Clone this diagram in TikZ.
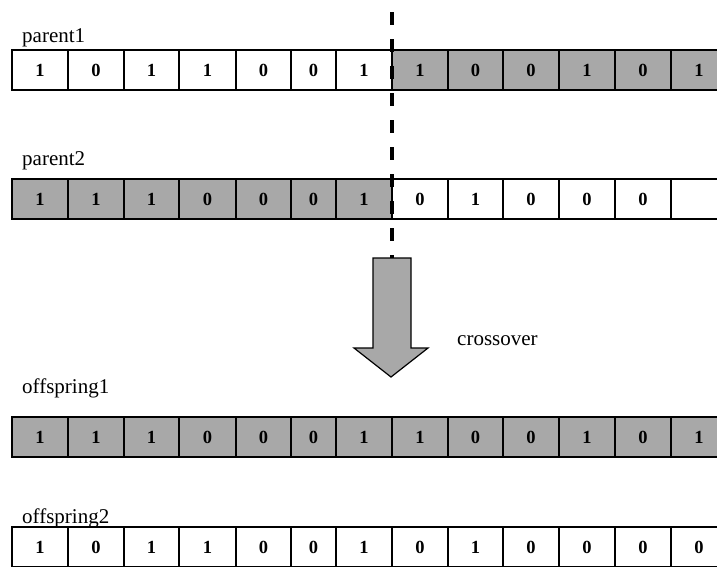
\documentclass[tikz,border=0pt]{standalone}
\usepackage{fontspec}
\setmainfont{Liberation Serif}
\definecolor{cellgray}{RGB}{168,168,168}
\begin{document}
\begin{tikzpicture}[x=1pt,y=-1pt,
  cell/.style={draw=black,line width=1.2pt,minimum height=40pt,inner sep=0pt,
    font=\fontsize{18.5}{20}\selectfont\bfseries},
  gcell/.style={cell,fill=cellgray},
  wcell/.style={cell,fill=white},
  lbl/.style={anchor=base west,inner sep=0pt,font=\fontsize{21}{24}\selectfont},
  cutline/.style={line width=3.5pt,dash pattern=on 13pt off 14pt},
  bigarrow/.style={draw=black,line width=1.2pt,fill=cellgray,line join=miter}]
\useasboundingbox (0,0) rectangle (717,566);
\clip (0,0) rectangle (717,566);
% parent1
\foreach \a/\b/\v/\s [count=\i] in {12/68/1/wcell,68/124/0/wcell,124/179/1/wcell,179/236/1/wcell,236/291/0/wcell,291/336/0/wcell,336/392/1/wcell,392/448/1/gcell,448/503/0/gcell,503/559/0/gcell,559/615/1/gcell,615/671/0/gcell,671/727/1/gcell}
  \node[\s,minimum width={(\b-\a)*1pt}] (pa-\i) at ({(\a+\b)/2},70) {\v};
% parent2
\foreach \a/\b/\v/\s [count=\i] in {12/68/1/gcell,68/124/1/gcell,124/179/1/gcell,179/236/0/gcell,236/291/0/gcell,291/336/0/gcell,336/392/1/gcell,392/448/0/wcell,448/503/1/wcell,503/559/0/wcell,559/615/0/wcell,615/671/0/wcell,671/727/{}/wcell}
  \node[\s,minimum width={(\b-\a)*1pt}] (pb-\i) at ({(\a+\b)/2},199) {\v};
% offspring1
\foreach \a/\b/\v/\s [count=\i] in {12/68/1/gcell,68/124/1/gcell,124/179/1/gcell,179/236/0/gcell,236/291/0/gcell,291/336/0/gcell,336/392/1/gcell,392/448/1/gcell,448/503/0/gcell,503/559/0/gcell,559/615/1/gcell,615/671/0/gcell,671/727/1/gcell}
  \node[\s,minimum width={(\b-\a)*1pt}] (oa-\i) at ({(\a+\b)/2},437) {\v};
% offspring2
\foreach \a/\b/\v/\s [count=\i] in {12/68/1/wcell,68/124/0/wcell,124/179/1/wcell,179/236/1/wcell,236/291/0/wcell,291/336/0/wcell,336/392/1/wcell,392/448/0/wcell,448/503/1/wcell,503/559/0/wcell,559/615/0/wcell,615/671/0/wcell,671/727/0/wcell}
  \node[\s,minimum width={(\b-\a)*1pt}] (ob-\i) at ({(\a+\b)/2},547) {\v};
% labels
\node[lbl] (lpa) at (22,42) {parent1};
\node[lbl] (lpb) at (22,165) {parent2};
\node[lbl] (loa) at (22,393) {offspring1};
\node[lbl] (lob) at (22,523) {offspring2};
\node[lbl] (lcross) at (457,345) {crossover};
% crossover arrow
\draw[bigarrow] (373,258) -- (411,258) -- (411,348) -- (428,348) -- (391,377) -- (354,348) -- (373,348) -- cycle;
\coordinate (arrowtop) at (392,258);
\coordinate (cuttop) at (392,12);
\draw[cutline] (cuttop) -- (arrowtop);
\end{tikzpicture}
\end{document}
